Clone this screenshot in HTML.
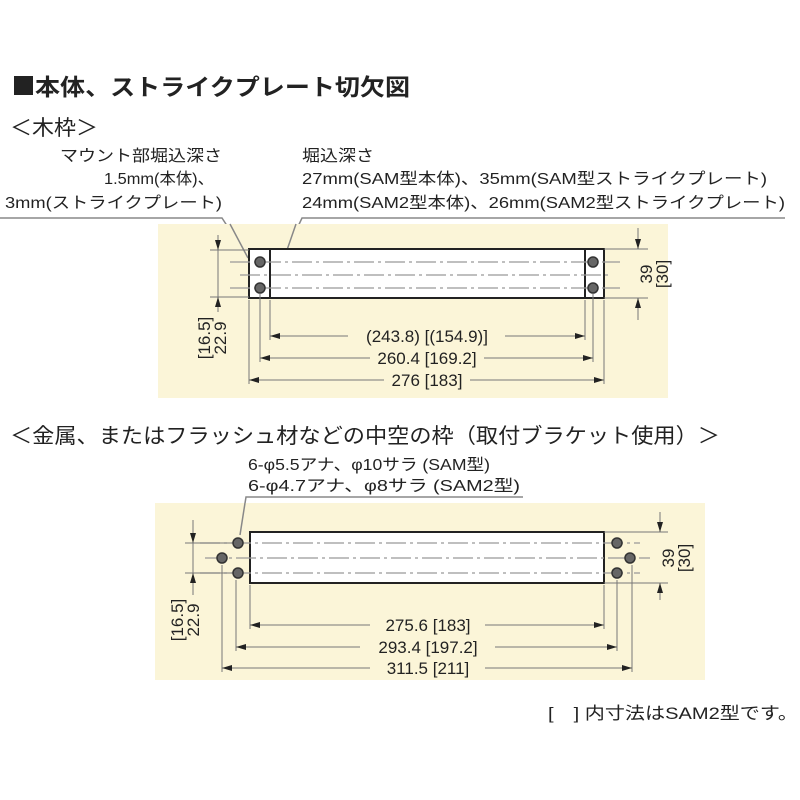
<!DOCTYPE html>
<html><head><meta charset="utf-8"><style>
html,body{margin:0;padding:0;background:#fff;}
svg{display:block;font-family:"Liberation Sans","Noto Sans CJK JP",sans-serif;}
</style></head><body>
<svg width="800" height="800" viewBox="0 0 800 800" xmlns="http://www.w3.org/2000/svg">
<defs>
<marker id="a" viewBox="0 0 10 6" refX="10" refY="3" markerWidth="10" markerHeight="6" markerUnits="userSpaceOnUse" orient="auto-start-reverse"><path d="M0,0L10,3L0,6z" fill="#222"/></marker>
</defs>
<g fill="#222" lengthAdjust="spacingAndGlyphs">
<rect x="14" y="76" width="19" height="19"/>
<text x="35" y="95" font-size="23" font-weight="bold" textLength="375" lengthAdjust="spacingAndGlyphs">本体、ストライクプレート切欠図</text>
<text x="10" y="135" font-size="21" textLength="88" lengthAdjust="spacingAndGlyphs">＜木枠＞</text>
<text x="222" y="161" font-size="16" text-anchor="end" textLength="162" lengthAdjust="spacingAndGlyphs">マウント部堀込深さ</text>
<text x="214" y="184" font-size="16" text-anchor="end" textLength="110" lengthAdjust="spacingAndGlyphs">1.5mm(本体)、</text>
<text x="222" y="208" font-size="16" text-anchor="end" textLength="217" lengthAdjust="spacingAndGlyphs">3mm(ストライクプレート)</text>
<text x="302" y="161" font-size="16" textLength="72" lengthAdjust="spacingAndGlyphs">堀込深さ</text>
<text x="302" y="184" font-size="16" textLength="465" lengthAdjust="spacingAndGlyphs">27mm(SAM型本体)、35mm(SAM型ストライクプレート)</text>
<text x="302" y="208" font-size="16" textLength="483" lengthAdjust="spacingAndGlyphs">24mm(SAM2型本体)、26mm(SAM2型ストライクプレート)</text>
</g>
<g stroke="#888" stroke-width="1.5" fill="none">
<path d="M0,218H222L248,258"/>
<path d="M785,218H302L287,250"/>
</g>
<!-- panel 1 -->
<rect x="158" y="224" width="510" height="174" fill="#fbf5d8"/>
<path d="M230,224L248,258M296,224L287,250" stroke="#888" stroke-width="1.5"/>
<rect x="249" y="249" width="355" height="49" fill="#fff" stroke="#222" stroke-width="2"/>
<line x1="270" y1="249" x2="270" y2="298" stroke="#222" stroke-width="2"/>
<line x1="585" y1="249" x2="585" y2="298" stroke="#222" stroke-width="2"/>
<g stroke="#999" stroke-width="1.2" fill="none" stroke-dasharray="20,4,3,4">
<line x1="230" y1="262" x2="620" y2="262"/>
<line x1="240" y1="275" x2="610" y2="275"/>
<line x1="230" y1="288" x2="620" y2="288"/>
</g>
<g fill="#666" stroke="#333" stroke-width="1.5">
<circle cx="260" cy="262" r="5"/><circle cx="260" cy="288" r="5"/>
<circle cx="593" cy="262" r="5"/><circle cx="593" cy="288" r="5"/>
</g>
<g stroke="#777" stroke-width="1">
<line x1="270" y1="300" x2="270" y2="340"/><line x1="585" y1="300" x2="585" y2="340"/>
<line x1="260" y1="294" x2="260" y2="362"/><line x1="593" y1="294" x2="593" y2="362"/>
<line x1="249" y1="300" x2="249" y2="384"/><line x1="604" y1="300" x2="604" y2="384"/>
<line x1="210" y1="250" x2="249" y2="250"/><line x1="210" y1="297" x2="249" y2="297"/>
<line x1="604" y1="249" x2="648" y2="249"/><line x1="604" y1="298" x2="648" y2="298"/>
<line x1="218" y1="235" x2="218" y2="250" marker-end="url(#a)"/>
<line x1="218" y1="312" x2="218" y2="297" marker-end="url(#a)"/>
<line x1="218" y1="297" x2="218" y2="250"/>
<line x1="638" y1="228" x2="638" y2="249" marker-end="url(#a)"/>
<line x1="638" y1="320" x2="638" y2="298" marker-end="url(#a)"/>
<line x1="270" y1="336" x2="348" y2="336" marker-start="url(#a)"/><line x1="505" y1="336" x2="585" y2="336" marker-end="url(#a)"/>
<line x1="260" y1="358" x2="370" y2="358" marker-start="url(#a)"/><line x1="484" y1="358" x2="593" y2="358" marker-end="url(#a)"/>
<line x1="249" y1="380" x2="384" y2="380" marker-start="url(#a)"/><line x1="470" y1="380" x2="604" y2="380" marker-end="url(#a)"/>
</g>
<g fill="#222" font-size="17" text-anchor="middle">
<text x="427" y="342">(243.8) [(154.9)]</text>
<text x="427" y="364">260.4 [169.2]</text>
<text x="427" y="386">276 [183]</text>
<text transform="translate(210,338) rotate(-90)">[16.5]</text>
<text transform="translate(226,338) rotate(-90)">22.9</text>
<text transform="translate(652,274) rotate(-90)">39</text>
<text transform="translate(668,274) rotate(-90)">[30]</text>
</g>
<!-- panel 2 header -->
<text x="10" y="443" font-size="21" fill="#222" textLength="710" lengthAdjust="spacingAndGlyphs">＜金属、またはフラッシュ材などの中空の枠（取付ブラケット使用）＞</text>
<g fill="#222" font-size="16">
<text x="248" y="470" textLength="242" lengthAdjust="spacingAndGlyphs">6-φ5.5アナ、φ10サラ (SAM型)</text>
<text x="248" y="491" textLength="272" lengthAdjust="spacingAndGlyphs">6-φ4.7アナ、φ8サラ (SAM2型)</text>
</g>
<path d="M523,497H246L240,535" stroke="#888" stroke-width="1.5" fill="none"/>
<rect x="155" y="503" width="550" height="177" fill="#fbf5d8"/>
<path d="M245,503L240,535" stroke="#888" stroke-width="1.5" fill="none"/>
<rect x="250" y="532" width="354" height="51" fill="#fff" stroke="#222" stroke-width="2"/>
<g stroke="#999" stroke-width="1.2" fill="none" stroke-dasharray="20,4,3,4">
<line x1="200" y1="543" x2="640" y2="543"/>
<line x1="205" y1="558" x2="650" y2="558"/>
<line x1="200" y1="573" x2="640" y2="573"/>
</g>
<g fill="#666" stroke="#333" stroke-width="1.5">
<circle cx="238" cy="543" r="5"/><circle cx="238" cy="573" r="5"/><circle cx="222" cy="558" r="5"/>
<circle cx="617" cy="543" r="5"/><circle cx="617" cy="573" r="5"/><circle cx="630" cy="558" r="5"/>
</g>
<g stroke="#777" stroke-width="1">
<line x1="250" y1="585" x2="250" y2="629"/><line x1="604" y1="585" x2="604" y2="629"/>
<line x1="236" y1="580" x2="236" y2="651"/><line x1="617" y1="580" x2="617" y2="651"/>
<line x1="222" y1="565" x2="222" y2="672"/><line x1="632" y1="565" x2="632" y2="672"/>
<line x1="185" y1="543" x2="232" y2="543"/><line x1="185" y1="573" x2="232" y2="573"/>
<line x1="604" y1="532" x2="668" y2="532"/><line x1="604" y1="583" x2="668" y2="583"/>
<line x1="193" y1="520" x2="193" y2="543" marker-end="url(#a)"/>
<line x1="193" y1="595" x2="193" y2="573" marker-end="url(#a)"/>
<line x1="193" y1="573" x2="193" y2="543"/>
<line x1="660" y1="512" x2="660" y2="532" marker-end="url(#a)"/>
<line x1="660" y1="600" x2="660" y2="583" marker-end="url(#a)"/>
<line x1="250" y1="625" x2="370" y2="625" marker-start="url(#a)"/><line x1="485" y1="625" x2="604" y2="625" marker-end="url(#a)"/>
<line x1="236" y1="647" x2="360" y2="647" marker-start="url(#a)"/><line x1="495" y1="647" x2="617" y2="647" marker-end="url(#a)"/>
<line x1="222" y1="668" x2="370" y2="668" marker-start="url(#a)"/><line x1="485" y1="668" x2="632" y2="668" marker-end="url(#a)"/>
</g>
<g fill="#222" font-size="17" text-anchor="middle">
<text x="428" y="631">275.6 [183]</text>
<text x="428" y="653">293.4 [197.2]</text>
<text x="428" y="674">311.5 [211]</text>
<text transform="translate(183,620) rotate(-90)">[16.5]</text>
<text transform="translate(199,620) rotate(-90)">22.9</text>
<text transform="translate(674,558) rotate(-90)">39</text>
<text transform="translate(690,558) rotate(-90)">[30]</text>
</g>
<text x="548" y="719" font-size="17" fill="#222" textLength="250" lengthAdjust="spacingAndGlyphs">[　]  内寸法はSAM2型です。</text>
</svg>
</body></html>
